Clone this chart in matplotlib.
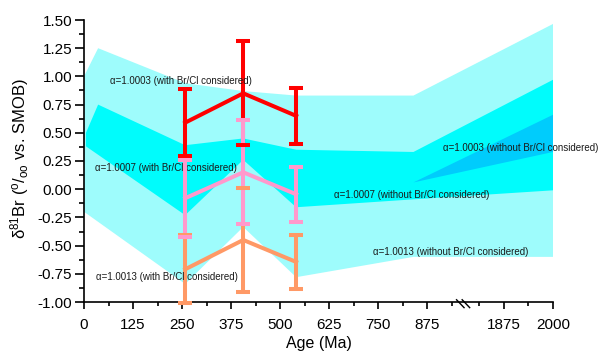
import numpy as np
import matplotlib
matplotlib.use('Agg')
import matplotlib.pyplot as plt

plt.rcParams['font.family'] = ['Liberation Sans', 'DejaVu Sans']
plt.rcParams['mathtext.default'] = 'regular'
plt.rcParams['axes.unicode_minus'] = False

# sample ages (Ma)
ages = [258, 406, 541]

# d81Br estimates with error for the three fractionation factors
red_mean = [0.59, 0.85, 0.65]
red_err = [0.30, 0.46, 0.25]
pink_mean = [-0.08, 0.15, -0.045]
pink_err = [0.34, 0.46, 0.245]
orange_mean = [-0.71, -0.45, -0.645]
orange_err = [0.30, 0.46, 0.24]

# model envelopes (without Br/Cl considered)
outer_top_x = [0, 36, 258, 406, 541, 840, 2000]
outer_top_y = [1.00, 1.25, 0.94, 0.87, 0.83, 0.83, 1.465]
outer_bot_x = [0, 258, 406, 541, 840, 2000]
outer_bot_y = [-0.20, -0.84, -0.335, -0.78, -0.60, -0.60]

mid_top_x = [5, 36, 258, 406, 541, 840, 2000]
mid_top_y = [0.50, 0.75, 0.39, 0.45, 0.35, 0.33, 0.97]
mid_bot_x = [5, 258, 406, 541, 840, 2000]
mid_bot_y = [0.38, -0.23, 0.26, -0.16, -0.09, -0.01]

inner_x = [840, 2000]
inner_top_y = [0.06, 0.66]
inner_bot_y = [0.06, 0.33]

major_ticks = [0, 125, 250, 375, 500, 625, 750, 875, 1875, 2000]
minor_ticks = [62.5, 187.5, 312.5, 437.5, 562.5, 687.5, 812.5, 937.5, 1812.5, 1937.5]

# broken x axis: squeeze the 975-1780 Ma gap to almost nothing
B1, B2, K = 975.0, 1780.0, 0.001
GAP = (B2 - B1) * K


def fwd(x):
    x = np.asarray(x, dtype=float)
    return np.where(x < B1, x,
                    np.where(x < B2, B1 + (x - B1) * K, B1 + GAP + (x - B2)))


def inv(u):
    u = np.asarray(u, dtype=float)
    return np.where(u < B1, u,
                    np.where(u < B1 + GAP, B1 + (u - B1) / K, u - B1 - GAP + B2))


fig = plt.figure(figsize=(6, 3.52), dpi=100)
ax = fig.add_axes([84 / 600, 50 / 352, 469 / 600, 282 / 352])
ax.set_xscale('function', functions=(fwd, inv))

ax.fill(outer_top_x + outer_bot_x[::-1], outer_top_y + outer_bot_y[::-1],
        color='#9efcfc', lw=0, zorder=1)
ax.fill(mid_top_x + mid_bot_x[::-1], mid_top_y + mid_bot_y[::-1],
        color='#00fcfc', lw=0, zorder=1.1)
ax.fill(inner_x + inner_x[::-1], inner_top_y + inner_bot_y[::-1],
        color='#00ccfc', lw=0, zorder=1.2)

series = [(orange_mean, orange_err, '#ff9966', 3),
          (red_mean, red_err, '#ff0000', 3),
          (pink_mean, pink_err, '#ff99cc', 3.5)]
for mean, err, col, z in series:
    line, caps, bars = ax.errorbar(ages, mean, yerr=err, color=col, lw=2.9,
                                   elinewidth=2.9, capsize=4.7, capthick=2.9,
                                   zorder=z)
    for b in bars:
        b.set_zorder(z)
    for c in caps:
        c.set_zorder(8)
        c.set_clip_on(False)

tc = '#1a1a1a'
fs = 7
ax.text(66, 0.96, 'α=1.0003 (with Br/Cl considered)', fontsize=fs, color=tc, va='center')
ax.text(28, 0.19, 'α=1.0007 (with Br/Cl considered)', fontsize=fs, color=tc, va='center')
ax.text(31, -0.78, 'α=1.0013 (with Br/Cl considered)', fontsize=fs, color=tc, va='center')
ax.text(916, 0.365, 'α=1.0003 (without Br/Cl considered)', fontsize=fs, color=tc, va='center')
ax.text(638, -0.05, 'α=1.0007 (without Br/Cl considered)', fontsize=fs, color=tc, va='center')
ax.text(737, -0.557, 'α=1.0013 (without Br/Cl considered)', fontsize=fs, color=tc, va='center')

ax.set_xlim(0, 2000)
ax.set_ylim(-1.0, 1.5)
ax.set_xticks(major_ticks)
ax.set_xticklabels([str(t) for t in major_ticks])
ax.set_xticks(minor_ticks, minor=True)
ax.set_yticks(np.arange(-1.0, 1.51, 0.25))
ax.set_yticklabels(['%.2f' % v for v in np.arange(-1.0, 1.51, 0.25)])
ax.set_yticks(np.arange(-0.875, 1.5, 0.25), minor=True)

for s in ['top', 'right']:
    ax.spines[s].set_visible(False)
for s in ['left', 'bottom']:
    ax.spines[s].set_linewidth(1.2)
    ax.spines[s].set_zorder(7)
ax.tick_params(axis='both', which='both', direction='out', width=1.2, labelsize=11)
ax.tick_params(axis='x', which='major', length=5, pad=6.5)
ax.tick_params(axis='x', which='minor', length=3)
ax.tick_params(axis='y', which='major', length=6.5, pad=2)
ax.tick_params(axis='y', which='minor', length=3.5)

# break marks on the x axis
xb = float(fwd(B1)) / float(fwd(2000))
for dx in (-0.013, -0.001):
    ax.plot([xb + dx - 0.008, xb + dx + 0.008], [0.008, -0.02], transform=ax.transAxes,
            color='k', lw=1, clip_on=False, zorder=8)

ax.set_xlabel('Age (Ma)', fontsize=11.5, labelpad=3)
ax.set_ylabel('δ$^{81}$Br ($^{o}$/$_{oo}$ vs. SMOB)', fontsize=12)
ax.yaxis.set_label_coords(-0.113, 0.507)

fig.savefig('out.png', dpi=100)
